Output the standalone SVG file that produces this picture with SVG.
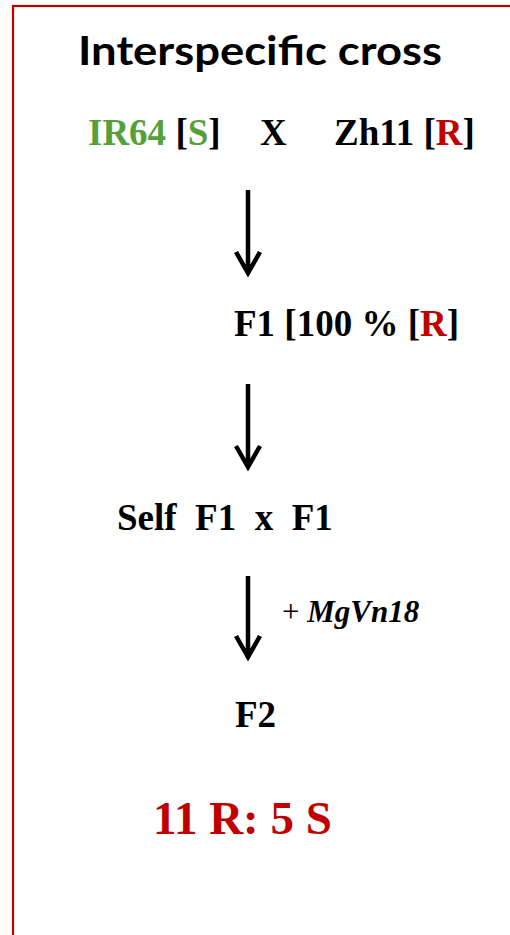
<svg xmlns="http://www.w3.org/2000/svg" width="510" height="935" viewBox="0 0 510 935">
  <style>
    .title { font-family: "Lato", "Open Sans", "Liberation Sans", sans-serif; font-weight: 700; font-size: 41px; fill: #000; }
    .lbl { font-family: "Liberation Serif", "Times New Roman", serif; font-weight: 700; font-size: 37px; fill: #000; }
    .green { fill: #56a03c; }
    .red { fill: #c00000; }
    .note { font-family: "Liberation Serif", "Times New Roman", serif; font-weight: 700; font-size: 31px; fill: #000; }
    .ratio { font-family: "Liberation Serif", "Times New Roman", serif; font-weight: 700; font-size: 47px; fill: #c00000; }
    .arrow { fill: none; stroke: #000; stroke-width: 4.5; stroke-linejoin: miter; stroke-linecap: butt; }
  </style>

  <rect width="510" height="935" fill="#fff"/>
  <!-- frame, runs past the right and bottom edges -->
  <rect x="13" y="6" width="620" height="1000" fill="none" stroke="#c00000" stroke-width="2.2"/>

  <g id="title">
    <text class="title" x="78" y="65" textLength="364" lengthAdjust="spacingAndGlyphs">Interspecific cross</text>
  </g>

  <g id="parents">
    <text class="lbl" y="145"><tspan x="88" class="green">IR64 </tspan><tspan>[</tspan><tspan class="green">S</tspan><tspan>]</tspan><tspan x="260">X</tspan><tspan x="334">Zh11 [</tspan><tspan class="red">R</tspan><tspan>]</tspan></text>
  </g>

  <g id="f1">
    <text class="lbl" x="234" y="336">F1 [100 % [<tspan class="red">R</tspan>]</text>
  </g>

  <g id="self">
    <text class="lbl" x="117" y="530" xml:space="preserve">Self  F1  x  F1</text>
  </g>

  <g id="f2">
    <text class="lbl" x="235" y="727">F2</text>
  </g>

  <g id="ratio">
    <text class="ratio" x="153" y="834">11 R: 5 S</text>
  </g>

  <g id="connectors">
    <path class="arrow" d="M248,190 V272 M236,252 L248,273 L260,252"/>
    <path class="arrow" d="M248,384 V466 M236,446 L248,467 L260,446"/>
    <path class="arrow" d="M248,576 V656 M236,636 L248,657 L260,636"/>
    <text class="note" x="282" y="622"><tspan font-weight="400">+</tspan> <tspan font-style="italic">MgVn18</tspan></text>
  </g>
</svg>
